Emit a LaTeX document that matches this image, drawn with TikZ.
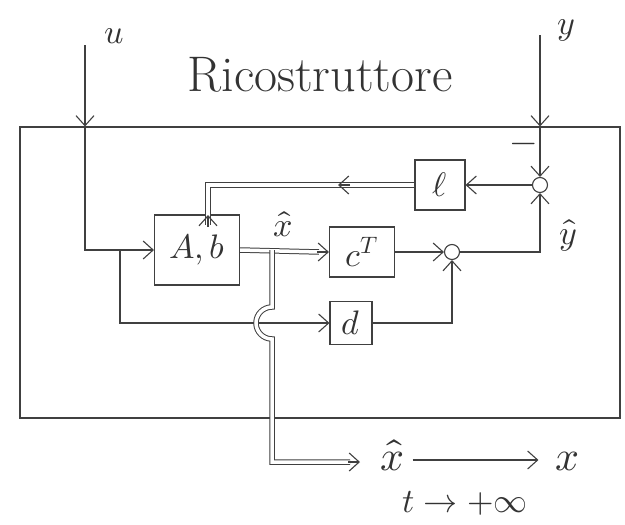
\documentclass[tikz,border=0pt]{standalone}
\usepackage{unicode-math}
\setmathfont{Latin Modern Math}
\usetikzlibrary{arrows.meta}
\begin{document}
\begin{tikzpicture}[x=1pt,y=-1pt,
  every node/.style={font=\fontsize{34}{38}\selectfont,text=black!80},
  sig/.style={draw=black!75,line width=1.1pt,-{Straight Barb[length=10pt,width=18pt,line width=1.1pt]}},
  vec/.style={draw=black!75,line width=1pt,double,double distance=3.5pt},
  blk/.style={draw=black!75,line width=1.1pt,minimum width=#1,inner sep=0pt},
  sumnode/.style={draw=black!75,line width=1.1pt,circle,minimum size=15pt,inner sep=0pt}]
\useasboundingbox (0,0) rectangle (625,525);
% contenitore del ricostruttore
\node[draw=black!75,line width=1.1pt,minimum width=600pt,minimum height=291pt,inner sep=0pt] (ric) at (320,272.5) {};
\node (titolo) at (320,75) {\fontsize{50}{54}\selectfont Ricostruttore};
% ingressi
\coordinate (uin) at (85,45);
\coordinate (yin) at (540,35);
\node (ulab) at (114,36) {$u$};
\node (ylab) at (566,30) {$y$};
\draw[sig] (uin) -- (uin |- ric.north);
\draw[sig] (yin) -- (yin |- ric.north);
% blocchi
\node[blk=85pt,minimum height=70pt] (AB) at (197,250) {$A,b$};
\node[blk=65pt,minimum height=50pt] (cT) at (362,252) {$c^T$};
\node[blk=42pt,minimum height=43pt] (dd) at (351,323) {$d$};
\node[blk=50pt,minimum height=50pt] (ell) at (440,185) {$\ell$};
\node[sumnode] (sumA) at (452,252) {};
\node[sumnode] (sumB) at (540,185) {};
% u verso A,b e d
\draw[sig] (uin |- ric.north) |- (AB.west);
\coordinate (ubr) at (120,250);
\draw[sig] (ubr) |- (dd.west);
% stima dello stato
\draw[vec] (AB.east) -- ([xshift=-10pt]cT.west);
\draw[sig] ([xshift=-12pt]cT.west) -- (cT.west);
\node (xlab) at (283,224) {$\hat{x}$};
\coordinate (xbr) at (272,250);
\coordinate (xout) at (360,462);
\draw[vec] (xbr) -- (272,307) arc (270:90:16) -- (272,462) -- ([xshift=-10pt]xout);
\draw[sig] ([xshift=-12pt]xout) -- (xout);
% uscita stimata
\draw[sig] (cT.east) -- (sumA.west);
\draw[sig] (dd.east) -| (sumA.south);
\draw[sig] (sumA.east) -| (sumB.south);
\node (yhlab) at (568,236) {$\hat{y}$};
\draw[sig] (yin |- ric.north) -- (sumB.north);
\node (meno) at (524,148) {$-$};
% retroazione tramite ell
\draw[sig] (sumB.west) -- (ell.east);
\coordinate (fbmid) at (338,185);
\coordinate (ABin) at (208,215);
\draw[vec] (ell.west) -- (fbmid);
\draw[sig] ([xshift=12pt]fbmid) -- (fbmid);
\draw[vec] (fbmid) -| ([yshift=-10pt]ABin);
\draw[sig] ([yshift=-12pt]ABin) -- (ABin);
% convergenza
\node[anchor=base] (xh) at (393,470) {\fontsize{42}{46}\selectfont$\hat{x}$};
\node[anchor=base] (xv) at (568,470) {\fontsize{42}{46}\selectfont$x$};
\draw[sig,shorten <=4pt,shorten >=14pt] (xh.east |- 0,460) -- (xv.west |- 0,460);
\node (tinf) at (465,503) {$t\to+\infty$};
\end{tikzpicture}
\end{document}
